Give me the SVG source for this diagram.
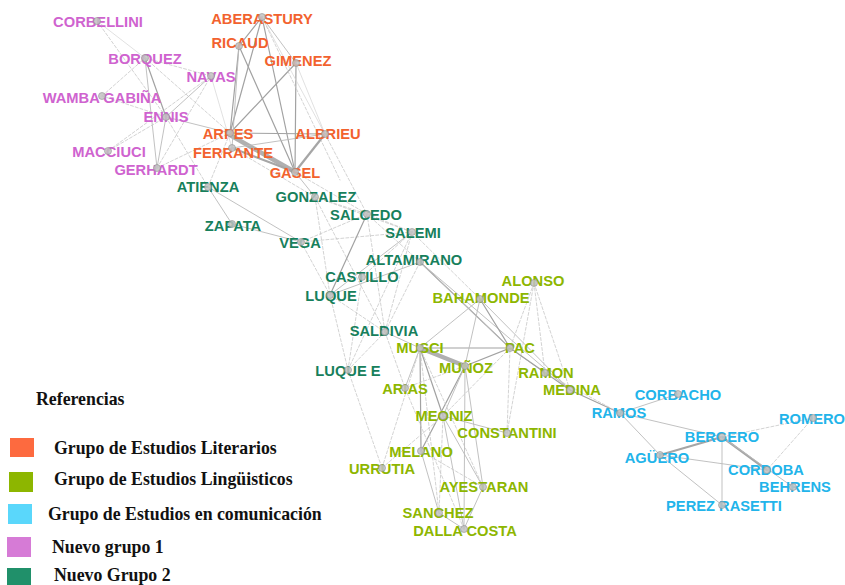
<svg xmlns="http://www.w3.org/2000/svg" width="845" height="585" viewBox="0 0 845 585">
<style>
.bg{fill:#ffffff}
.e line{stroke-linecap:round}
.s{stroke:#a2a2a2;stroke-width:1.2}
.m{stroke:#bababa;stroke-width:0.9}
.t{stroke:#b0b0b0;stroke-width:4.5}
.k{stroke:#a6a6a6;stroke-width:2.2}
.d{stroke:#c8c8c8;stroke-width:0.8;stroke-dasharray:3 2}
.f{stroke:#d4d4d4;stroke-width:0.7}
.n circle{fill:#c2c2c2;stroke:#8e8e8e;stroke-width:0.7;opacity:0.85}
.n text{font-family:"Liberation Sans",Arial,sans-serif;font-weight:bold;font-size:14.7px;text-anchor:middle}
.lit text{fill:#f2622e}
.lin text{fill:#8db600}
.com text{fill:#22b4ea}
.g1 text{fill:#cf63cf}
.g2 text{fill:#17805c}
.leg text{font-family:"Liberation Serif","Times New Roman",serif;font-weight:bold;font-size:17.8px;fill:#111}
</style>
<rect class="bg" x="0" y="0" width="845" height="585"/>
<g id="connectors" class="e">
<line class="s" x1="262" y1="17" x2="230" y2="133"/>
<line class="s" x1="239" y1="46" x2="230" y2="133"/>
<line class="s" x1="262" y1="17" x2="239" y2="46"/>
<line class="s" x1="262" y1="17" x2="295" y2="172"/>
<line class="s" x1="239" y1="46" x2="295" y2="172"/>
<line class="s" x1="296" y1="63" x2="230" y2="133"/>
<line class="s" x1="296" y1="63" x2="295" y2="172"/>
<line class="m" x1="262" y1="17" x2="296" y2="63"/>
<line class="f" x1="262" y1="17" x2="325" y2="134"/>
<line class="f" x1="296" y1="63" x2="325" y2="134"/>
<line class="d" x1="262" y1="17" x2="340" y2="180"/>
<line class="s" x1="230" y1="133" x2="325" y2="134"/>
<line class="k" x1="325" y1="134" x2="295" y2="172"/>
<line class="t" x1="230" y1="135" x2="295" y2="172"/>
<line class="k" x1="232" y1="148" x2="295" y2="172"/>
<line class="m" x1="232" y1="148" x2="325" y2="134"/>
<line class="m" x1="239" y1="46" x2="232" y2="148"/>
<line class="f" x1="211" y1="76" x2="232" y2="148"/>
<line class="d" x1="97" y1="21" x2="166" y2="117"/>
<line class="d" x1="102" y1="96" x2="145" y2="58"/>
<line class="s" x1="145" y1="58" x2="166" y2="117"/>
<line class="m" x1="166" y1="117" x2="157" y2="168"/>
<line class="m" x1="145" y1="58" x2="157" y2="168"/>
<line class="d" x1="145" y1="58" x2="211" y2="76"/>
<line class="m" x1="166" y1="117" x2="211" y2="76"/>
<line class="m" x1="166" y1="117" x2="230" y2="133"/>
<line class="d" x1="102" y1="96" x2="166" y2="117"/>
<line class="d" x1="108" y1="151" x2="166" y2="117"/>
<line class="d" x1="108" y1="151" x2="211" y2="76"/>
<line class="d" x1="157" y1="168" x2="230" y2="133"/>
<line class="d" x1="145" y1="58" x2="230" y2="133"/>
<line class="f" x1="97" y1="21" x2="145" y2="58"/>
<line class="d" x1="166" y1="117" x2="208" y2="187"/>
<line class="d" x1="157" y1="168" x2="211" y2="76"/>
<line class="d" x1="208" y1="187" x2="230" y2="133"/>
<line class="m" x1="208" y1="187" x2="232" y2="224"/>
<line class="m" x1="208" y1="187" x2="301" y2="242"/>
<line class="m" x1="232" y1="224" x2="301" y2="242"/>
<line class="d" x1="301" y1="242" x2="330" y2="295"/>
<line class="d" x1="301" y1="242" x2="367" y2="214"/>
<line class="d" x1="301" y1="242" x2="412" y2="232"/>
<line class="m" x1="295" y1="172" x2="315" y2="197"/>
<line class="d" x1="232" y1="148" x2="315" y2="197"/>
<line class="d" x1="315" y1="197" x2="412" y2="232"/>
<line class="d" x1="315" y1="197" x2="385" y2="332"/>
<line class="d" x1="315" y1="197" x2="330" y2="295"/>
<line class="d" x1="315" y1="197" x2="367" y2="214"/>
<line class="d" x1="295" y1="172" x2="367" y2="214"/>
<line class="s" x1="367" y1="214" x2="330" y2="295"/>
<line class="m" x1="412" y1="232" x2="330" y2="295"/>
<line class="m" x1="420" y1="262" x2="330" y2="295"/>
<line class="d" x1="367" y1="214" x2="412" y2="232"/>
<line class="d" x1="367" y1="214" x2="420" y2="262"/>
<line class="d" x1="412" y1="232" x2="385" y2="332"/>
<line class="d" x1="367" y1="214" x2="385" y2="332"/>
<line class="d" x1="330" y1="295" x2="385" y2="332"/>
<line class="d" x1="348" y1="370" x2="385" y2="332"/>
<line class="d" x1="348" y1="370" x2="362" y2="277"/>
<line class="d" x1="348" y1="370" x2="412" y2="232"/>
<line class="d" x1="362" y1="277" x2="412" y2="232"/>
<line class="d" x1="330" y1="295" x2="348" y2="370"/>
<line class="s" x1="420" y1="262" x2="510" y2="348"/>
<line class="m" x1="423" y1="265" x2="508" y2="346"/>
<line class="m" x1="420" y1="262" x2="570" y2="390"/>
<line class="d" x1="412" y1="232" x2="480" y2="299"/>
<line class="m" x1="385" y1="332" x2="420" y2="348"/>
<line class="d" x1="385" y1="332" x2="420" y2="262"/>
<line class="d" x1="325" y1="134" x2="367" y2="214"/>
<line class="s" x1="420" y1="348" x2="510" y2="348"/>
<line class="t" x1="420" y1="348" x2="465" y2="366"/>
<line class="s" x1="465" y1="366" x2="510" y2="348"/>
<line class="m" x1="420" y1="348" x2="480" y2="299"/>
<line class="s" x1="480" y1="299" x2="510" y2="348"/>
<line class="m" x1="480" y1="299" x2="465" y2="366"/>
<line class="m" x1="480" y1="299" x2="570" y2="390"/>
<line class="d" x1="534" y1="283" x2="510" y2="348"/>
<line class="d" x1="534" y1="283" x2="545" y2="373"/>
<line class="d" x1="534" y1="283" x2="570" y2="390"/>
<line class="d" x1="534" y1="283" x2="507" y2="433"/>
<line class="m" x1="510" y1="348" x2="545" y2="373"/>
<line class="s" x1="510" y1="348" x2="570" y2="390"/>
<line class="s" x1="420" y1="348" x2="443" y2="416"/>
<line class="s" x1="420" y1="348" x2="421" y2="451"/>
<line class="m" x1="420" y1="348" x2="405" y2="388"/>
<line class="s" x1="465" y1="366" x2="421" y2="451"/>
<line class="m" x1="465" y1="366" x2="443" y2="416"/>
<line class="m" x1="465" y1="366" x2="464" y2="529"/>
<line class="m" x1="465" y1="366" x2="483" y2="487"/>
<line class="d" x1="510" y1="348" x2="443" y2="416"/>
<line class="m" x1="443" y1="416" x2="507" y2="433"/>
<line class="m" x1="443" y1="416" x2="464" y2="529"/>
<line class="m" x1="421" y1="451" x2="439" y2="513"/>
<line class="d" x1="382" y1="468" x2="443" y2="416"/>
<line class="d" x1="382" y1="468" x2="420" y2="348"/>
<line class="m" x1="483" y1="487" x2="443" y2="416"/>
<line class="m" x1="483" y1="487" x2="464" y2="529"/>
<line class="m" x1="439" y1="513" x2="464" y2="529"/>
<line class="d" x1="420" y1="348" x2="439" y2="513"/>
<line class="d" x1="405" y1="388" x2="464" y2="529"/>
<line class="d" x1="405" y1="388" x2="465" y2="366"/>
<line class="d" x1="420" y1="348" x2="483" y2="487"/>
<line class="d" x1="421" y1="451" x2="483" y2="487"/>
<line class="d" x1="439" y1="513" x2="443" y2="416"/>
<line class="d" x1="507" y1="433" x2="510" y2="348"/>
<line class="d" x1="348" y1="370" x2="382" y2="468"/>
<line class="d" x1="385" y1="332" x2="405" y2="388"/>
<line class="s" x1="570" y1="390" x2="620" y2="413"/>
<line class="d" x1="545" y1="373" x2="620" y2="413"/>
<line class="m" x1="620" y1="413" x2="678" y2="394"/>
<line class="m" x1="620" y1="413" x2="722" y2="437"/>
<line class="m" x1="620" y1="413" x2="660" y2="455"/>
<line class="k" x1="660" y1="455" x2="722" y2="437"/>
<line class="m" x1="660" y1="455" x2="767" y2="470"/>
<line class="m" x1="660" y1="455" x2="722" y2="505"/>
<line class="m" x1="722" y1="437" x2="722" y2="505"/>
<line class="k" x1="722" y1="437" x2="767" y2="470"/>
<line class="m" x1="722" y1="437" x2="793" y2="487"/>
<line class="d" x1="722" y1="437" x2="813" y2="418"/>
<line class="d" x1="813" y1="418" x2="767" y2="470"/>
</g>
<g id="n-corbellini" class="n g1"><text x="98" y="27">CORBELLINI</text><circle cx="97" cy="21" r="3.5"/></g>
<g id="n-borquez" class="n g1"><text x="145" y="64">BORQUEZ</text><circle cx="145" cy="58" r="3.5"/></g>
<g id="n-navas" class="n g1"><text x="211" y="82">NAVAS</text><circle cx="211" cy="76" r="3.5"/></g>
<g id="n-wamba" class="n g1"><text x="102" y="103">WAMBA GABIÑA</text><circle cx="102" cy="96" r="3.5"/></g>
<g id="n-ennis" class="n g1"><text x="166" y="122">ENNIS</text><circle cx="166" cy="117" r="3.5"/></g>
<g id="n-macciuci" class="n g1"><text x="109" y="157">MACCIUCI</text><circle cx="108" cy="151" r="3.5"/></g>
<g id="n-gerhardt" class="n g1"><text x="156" y="175">GERHARDT</text><circle cx="157" cy="168" r="3.5"/></g>
<g id="n-aberastury" class="n lit"><text x="262" y="24">ABERASTURY</text><circle cx="262" cy="17" r="3.5"/></g>
<g id="n-ricaud" class="n lit"><text x="240" y="48">RICAUD</text><circle cx="239" cy="46" r="3.5"/></g>
<g id="n-gimenez" class="n lit"><text x="298" y="66">GIMENEZ</text><circle cx="296" cy="63" r="3.5"/></g>
<g id="n-arpes" class="n lit"><text x="228" y="139">ARPES</text><circle cx="230" cy="133" r="3.5"/></g>
<g id="n-albrieu" class="n lit"><text x="328" y="139">ALBRIEU</text><circle cx="325" cy="134" r="3.5"/></g>
<g id="n-ferrante" class="n lit"><text x="233" y="158">FERRANTE</text><circle cx="232" cy="148" r="3.5"/></g>
<g id="n-gasel" class="n lit"><text x="295" y="178">GASEL</text><circle cx="295" cy="172" r="3.5"/></g>
<g id="n-atienza" class="n g2"><text x="208" y="192">ATIENZA</text><circle cx="208" cy="187" r="3.5"/></g>
<g id="n-gonzalez" class="n g2"><text x="316" y="202">GONZALEZ</text><circle cx="315" cy="197" r="3.5"/></g>
<g id="n-salcedo" class="n g2"><text x="366" y="220">SALCEDO</text><circle cx="367" cy="214" r="3.5"/></g>
<g id="n-zapata" class="n g2"><text x="233" y="231">ZAPATA</text><circle cx="232" cy="224" r="3.5"/></g>
<g id="n-salemi" class="n g2"><text x="413" y="238">SALEMI</text><circle cx="412" cy="232" r="3.5"/></g>
<g id="n-vega" class="n g2"><text x="300" y="248">VEGA</text><circle cx="301" cy="242" r="3.5"/></g>
<g id="n-altamirano" class="n g2"><text x="414" y="265">ALTAMIRANO</text><circle cx="420" cy="262" r="3.5"/></g>
<g id="n-castillo" class="n g2"><text x="362" y="282">CASTILLO</text><circle cx="362" cy="277" r="3.5"/></g>
<g id="n-luque" class="n g2"><text x="331" y="301">LUQUE</text><circle cx="330" cy="295" r="3.5"/></g>
<g id="n-saldivia" class="n g2"><text x="384" y="336">SALDIVIA</text><circle cx="385" cy="332" r="3.5"/></g>
<g id="n-luquee" class="n g2"><text x="348" y="376">LUQUE E</text><circle cx="348" cy="370" r="3.5"/></g>
<g id="n-alonso" class="n lin"><text x="533" y="286">ALONSO</text><circle cx="534" cy="283" r="3.5"/></g>
<g id="n-bahamonde" class="n lin"><text x="481" y="303">BAHAMONDE</text><circle cx="480" cy="299" r="3.5"/></g>
<g id="n-musci" class="n lin"><text x="420" y="353">MUSCI</text><circle cx="420" cy="348" r="3.5"/></g>
<g id="n-pac" class="n lin"><text x="520" y="353">PAC</text><circle cx="510" cy="348" r="3.5"/></g>
<g id="n-munoz" class="n lin"><text x="466" y="373">MUÑOZ</text><circle cx="465" cy="366" r="3.5"/></g>
<g id="n-ramon" class="n lin"><text x="546" y="378">RAMON</text><circle cx="545" cy="373" r="3.5"/></g>
<g id="n-medina" class="n lin"><text x="572" y="395">MEDINA</text><circle cx="570" cy="390" r="3.5"/></g>
<g id="n-arias" class="n lin"><text x="405" y="394">ARIAS</text><circle cx="405" cy="388" r="3.5"/></g>
<g id="n-meoniz" class="n lin"><text x="444" y="421">MEONIZ</text><circle cx="443" cy="416" r="3.5"/></g>
<g id="n-constantini" class="n lin"><text x="507" y="438">CONSTANTINI</text><circle cx="507" cy="433" r="3.5"/></g>
<g id="n-melano" class="n lin"><text x="421" y="457">MELANO</text><circle cx="421" cy="451" r="3.5"/></g>
<g id="n-urrutia" class="n lin"><text x="382" y="474">URRUTIA</text><circle cx="382" cy="468" r="3.5"/></g>
<g id="n-ayestaran" class="n lin"><text x="484" y="492">AYESTARAN</text><circle cx="483" cy="487" r="3.5"/></g>
<g id="n-sanchez" class="n lin"><text x="438" y="518">SANCHEZ</text><circle cx="439" cy="513" r="3.5"/></g>
<g id="n-dallacosta" class="n lin"><text x="465" y="536">DALLA COSTA</text><circle cx="464" cy="529" r="3.5"/></g>
<g id="n-corbacho" class="n com"><text x="678" y="400">CORBACHO</text><circle cx="678" cy="394" r="3.5"/></g>
<g id="n-ramos" class="n com"><text x="619" y="418">RAMOS</text><circle cx="620" cy="413" r="3.5"/></g>
<g id="n-romero" class="n com"><text x="812" y="424">ROMERO</text><circle cx="813" cy="418" r="3.5"/></g>
<g id="n-bergero" class="n com"><text x="722" y="442">BERGERO</text><circle cx="722" cy="437" r="3.5"/></g>
<g id="n-aguero" class="n com"><text x="657" y="463">AGÜERO</text><circle cx="660" cy="455" r="3.5"/></g>
<g id="n-cordoba" class="n com"><text x="766" y="475">CORDOBA</text><circle cx="767" cy="470" r="3.5"/></g>
<g id="n-behrens" class="n com"><text x="795" y="492">BEHRENS</text><circle cx="793" cy="487" r="3.5"/></g>
<g id="n-perezrasetti" class="n com"><text x="724" y="511">PEREZ RASETTI</text><circle cx="722" cy="505" r="3.5"/></g>
<g id="legend" class="leg">
<text x="36" y="405">Referencias</text>
<rect x="10" y="438" width="24" height="19" fill="#fd6a3f"/>
<text x="54" y="454">Grupo de Estudios Literarios</text>
<rect x="9" y="472" width="24" height="20" fill="#8db600"/>
<text x="54" y="485">Grupo de Estudios Lingüisticos</text>
<rect x="8" y="504" width="24" height="20" fill="#5ad7fb"/>
<text x="48" y="520">Grupo de Estudios en comunicación</text>
<rect x="7" y="537" width="24" height="20" fill="#d67bd6"/>
<text x="52" y="553">Nuevo grupo 1</text>
<rect x="7" y="568" width="24" height="17" fill="#20906a"/>
<text x="54" y="581">Nuevo Grupo 2</text>
</g>
</svg>
